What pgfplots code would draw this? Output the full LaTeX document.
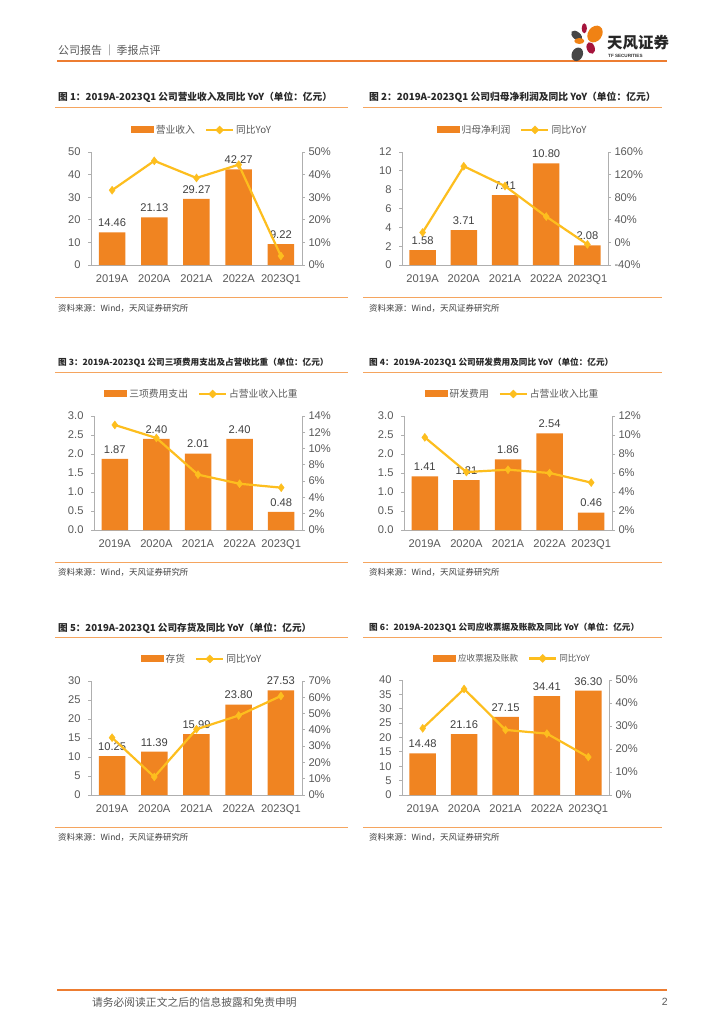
\documentclass[border=0pt]{standalone}
\usepackage{fontspec}
\setmainfont{Liberation Sans}
\newfontfamily\cjk{Noto Sans CJK SC}
\usepackage{pgfplots}
\pgfplotsset{compat=1.18}
\definecolor{barorange}{RGB}{240,132,33}
\definecolor{lineyellow}{RGB}{253,190,30}
\definecolor{axisgray}{RGB}{175,175,175}
\definecolor{labelgray}{RGB}{89,89,89}
\definecolor{numgray}{RGB}{64,64,64}
\definecolor{titlegray}{RGB}{40,40,40}
\definecolor{lineorange}{RGB}{245,165,95}
\definecolor{headorange}{RGB}{237,125,49}
\definecolor{logored}{RGB}{165,20,60}
\definecolor{logogray}{RGB}{70,70,70}
\definecolor{logoorange}{RGB}{240,130,20}
\pgfplotsset{
  /pgf/number format/assume math mode=true,
  base/.style={scale only axis, xmin=-0.5, xmax=4.5, anchor=south west,
    axis line style={draw=axisgray, line width=0.8bp},
    tick style={draw=axisgray, line width=0.8bp},
    major tick length=3bp, tick align=outside,
    ticklabel style={font=\fontsize{11.2}{11.2}\selectfont, text=labelgray},
    clip=false},
  leftax/.style={base, axis x line*=bottom, axis y line*=left,
    xtick={0,...,4}, xticklabels={2019A,2020A,2021A,2022A,2023Q1},
    xtick style={draw=none},
    xticklabel style={yshift=-3.5bp},
    yticklabel style={xshift=-4bp},
    legend columns=2, legend cell align=left,
    legend style={at={(0.5,1)}, anchor=south, yshift=15bp, draw=none, fill=none,
      inner sep=0pt, font=\cjk\fontsize{9.8}{10}\selectfont, text=labelgray,
      /tikz/every even column/.append style={column sep=8bp}}},
  rightax/.style={base, axis x line=none, axis y line*=right},
  bars/.style={ybar, bar width=26.5bp, fill=barorange, draw=none,
    nodes near coords={\pgfmathprintnumber[fixed,fixed zerofill,precision=2]{\pgfplotspointmeta}},
    every node near coord/.append style={font=\fontsize{11.2}{11.2}\selectfont, text=numgray, yshift=2bp},
    legend image code/.code={\fill[barorange] (0bp,-3.5bp) rectangle (23bp,3.5bp);}},
  yoy/.style={draw=lineyellow, line width=2.2bp, mark=diamond*, mark size=4bp,
    mark options={fill=lineyellow, draw=lineyellow, line width=0.4bp}},
  yoyleg/.style={legend image code/.code={\draw[lineyellow,line width=2.2bp] (0bp,0bp) -- (27bp,0bp);
    \fill[lineyellow] (13.5bp,4bp) -- (17.5bp,0bp) -- (13.5bp,-4bp) -- (9.5bp,0bp) -- cycle;}},
}
\newcommand{\charttitle}[4]{\node[anchor=west, inner sep=0pt, text=titlegray, font=\cjk\bfseries\fontsize{#3}{#3}\selectfont] at (#1bp,-#2bp) {#4};}
\begin{document}
\begin{tikzpicture}
\path[fill=white, use as bounding box] (0,0) rectangle (724bp,-1024bp);
% header
\node[anchor=west, inner sep=0pt, text=labelgray, font=\cjk\fontsize{11}{11}\selectfont] at (58bp,-50bp) {公司报告\,｜\,季报点评};
\draw[headorange, line width=1.6bp] (57bp,-61bp) -- (667bp,-61bp);
% logo
\fill[logogray, rotate around={-40:(576.7bp,-35.7bp)}] (576.7bp,-35.7bp) ellipse (6.5bp and 3.8bp);
\fill[logored] (584.3bp,-28.3bp) ellipse (2.6bp and 5bp);
\fill[logoorange, rotate around={-35:(595bp,-34bp)}] (595bp,-34bp) ellipse (7bp and 9bp);
\fill[logoorange] (579.3bp,-41bp) ellipse (5bp and 3bp);
\fill[logored, rotate around={20:(590.7bp,-48bp)}] (590.7bp,-48bp) ellipse (4bp and 6bp);
\fill[logogray, rotate around={-25:(577.3bp,-54.3bp)}] (577.3bp,-54.3bp) ellipse (5.5bp and 7bp);
\node[anchor=west, inner sep=0pt, font=\cjk\bfseries\fontsize{15.5}{15.5}\selectfont, text=black!85] at (607bp,-43bp) {天风证券};
\node[anchor=west, inner sep=0pt, font=\bfseries\fontsize{4.6}{4.6}\selectfont, text=black!80] at (608bp,-56bp) {TF SECURITIES};
% footer
\draw[headorange, line width=1.6bp] (57bp,-990bp) -- (667bp,-990bp);
\node[anchor=west, inner sep=0pt, text=labelgray, font=\cjk\fontsize{10.8}{10.8}\selectfont] at (92bp,-1002bp) {请务必阅读正文之后的信息披露和免责申明};
\node[anchor=east, inner sep=0pt, text=labelgray, font=\fontsize{10.5}{10.5}\selectfont] at (668bp,-1002bp) {2};
% titles and rules
\charttitle{58}{97}{9.7}{图 1：2019A-2023Q1 公司营业收入及同比 YoY（单位：亿元）}
\charttitle{369}{97}{9.8}{图 2：2019A-2023Q1 公司归母净利润及同比 YoY（单位：亿元）}
\charttitle{58}{363}{8.65}{图 3：2019A-2023Q1 公司三项费用支出及占营收比重（单位：亿元）}
\charttitle{369}{363}{8.65}{图 4：2019A-2023Q1 公司研发费用及同比 YoY（单位：亿元）}
\charttitle{58}{628}{9.65}{图 5：2019A-2023Q1 公司存货及同比 YoY（单位：亿元）}
\charttitle{369}{628}{8.65}{图 6：2019A-2023Q1 公司应收票据及账款及同比 YoY（单位：亿元）}
\foreach \yy in {107,297,372,562,637,827} {
  \draw[lineorange, line width=0.8bp] (55bp,-\yy bp) -- (348bp,-\yy bp);
  \draw[lineorange, line width=0.8bp] (363bp,-\yy bp) -- (662bp,-\yy bp);
}
\foreach \yy in {308,572,837} {
  \node[anchor=west, inner sep=0pt, text=numgray, font=\cjk\fontsize{8.5}{8.5}\selectfont] at (58bp,-\yy bp) {资料来源：Wind，天风证券研究所};
  \node[anchor=west, inner sep=0pt, text=numgray, font=\cjk\fontsize{8.5}{8.5}\selectfont] at (369bp,-\yy bp) {资料来源：Wind，天风证券研究所};
}
% ---------- chart 1
\begin{axis}[leftax, at={(91bp,-265bp)}, width=211bp, height=113bp,
  ymin=0, ymax=50, ytick={0,10,...,50}, legend style={xshift=5.5bp}]
\addplot[bars] coordinates {(0,14.46) (1,21.13) (2,29.27) (3,42.27) (4,9.22)};
\addlegendentry{营业收入}
\addlegendimage{yoyleg}
\addlegendentry{同比YoY}
\end{axis}
\begin{axis}[rightax, at={(91bp,-265bp)}, width=211bp, height=113bp,
  ymin=0, ymax=50, ytick={0,10,...,50}, yticklabels={0\%,10\%,20\%,30\%,40\%,50\%}]
\addplot[yoy] coordinates {(0,33.1) (1,46.1) (2,38.5) (3,44.4) (4,4.0)};
\end{axis}
% ---------- chart 2
\begin{axis}[leftax, at={(402bp,-265bp)}, width=206bp, height=113bp,
  ymin=0, ymax=12, ytick={0,2,...,12}, legend style={xshift=7.5bp}]
\addplot[bars] coordinates {(0,1.58) (1,3.71) (2,7.41) (3,10.80) (4,2.08)};
\addlegendentry{归母净利润}
\addlegendimage{yoyleg}
\addlegendentry{同比YoY}
\end{axis}
\begin{axis}[rightax, at={(402bp,-265bp)}, width=206bp, height=113bp,
  ymin=-40, ymax=160, ytick={-40,0,40,80,120,160}, yticklabels={-40\%,0\%,40\%,80\%,120\%,160\%}]
\addplot[yoy] coordinates {(0,17.6) (1,134.8) (2,99.7) (3,45.7) (4,-3.5)};
\end{axis}
% ---------- chart 3
\begin{axis}[leftax, at={(94bp,-530bp)}, width=208bp, height=114bp,
  ymin=0, ymax=3, ytick={0,0.5,...,3}, yticklabels={0.0,0.5,1.0,1.5,2.0,2.5,3.0}, legend style={xshift=4bp}]
\addplot[bars] coordinates {(0,1.87) (1,2.40) (2,2.01) (3,2.40) (4,0.48)};
\addlegendentry{三项费用支出}
\addlegendimage{yoyleg}
\addlegendentry{占营业收入比重}
\end{axis}
\begin{axis}[rightax, at={(94bp,-530bp)}, width=208bp, height=114bp,
  ymin=0, ymax=14, ytick={0,2,...,14}, yticklabels={0\%,2\%,4\%,6\%,8\%,10\%,12\%,14\%}]
\addplot[yoy] coordinates {(0,12.9) (1,11.3) (2,6.8) (3,5.68) (4,5.2)};
\end{axis}
% ---------- chart 4
\begin{axis}[leftax, at={(404bp,-530bp)}, width=208bp, height=114bp,
  ymin=0, ymax=3, ytick={0,0.5,...,3}, yticklabels={0.0,0.5,1.0,1.5,2.0,2.5,3.0}, legend style={xshift=4.5bp}]
\addplot[bars] coordinates {(0,1.41) (1,1.31) (2,1.86) (3,2.54) (4,0.46)};
\addlegendentry{研发费用}
\addlegendimage{yoyleg}
\addlegendentry{占营业收入比重}
\end{axis}
\begin{axis}[rightax, at={(404bp,-530bp)}, width=208bp, height=114bp,
  ymin=0, ymax=12, ytick={0,2,...,12}, yticklabels={0\%,2\%,4\%,6\%,8\%,10\%,12\%}]
\addplot[yoy] coordinates {(0,9.75) (1,6.1) (2,6.35) (3,6.0) (4,4.99)};
\end{axis}
% ---------- chart 5
\begin{axis}[leftax, at={(91bp,-795bp)}, width=211bp, height=114bp,
  ymin=0, ymax=30, ytick={0,5,...,30}, legend style={xshift=5.5bp}]
\addplot[bars] coordinates {(0,10.25) (1,11.39) (2,15.99) (3,23.80) (4,27.53)};
\addlegendentry{存货}
\addlegendimage{yoyleg}
\addlegendentry{同比YoY}
\end{axis}
\begin{axis}[rightax, at={(91bp,-795bp)}, width=211bp, height=114bp,
  ymin=0, ymax=70, ytick={0,10,...,70}, yticklabels={0\%,10\%,20\%,30\%,40\%,50\%,60\%,70\%}]
\addplot[yoy] coordinates {(0,35.2) (1,11.1) (2,40.4) (3,48.8) (4,60.8)};
\end{axis}
% ---------- chart 6
\begin{axis}[leftax, at={(402bp,-795bp)}, width=207bp, height=115bp,
  ymin=0, ymax=40, ytick={0,5,...,40},
  legend style={xshift=7bp, font=\cjk\fontsize{8.6}{9}\selectfont}]
\addplot[bars] coordinates {(0,14.48) (1,21.16) (2,27.15) (3,34.41) (4,36.30)};
\addlegendentry{应收票据及账款}
\addlegendimage{yoyleg}
\addlegendentry{同比YoY}
\end{axis}
\begin{axis}[rightax, at={(402bp,-795bp)}, width=207bp, height=115bp,
  ymin=0, ymax=50, ytick={0,10,...,50}, yticklabels={0\%,10\%,20\%,30\%,40\%,50\%}]
\addplot[yoy] coordinates {(0,29.0) (1,46.1) (2,28.3) (3,26.7) (4,16.5)};
\end{axis}
\end{tikzpicture}
\end{document}
